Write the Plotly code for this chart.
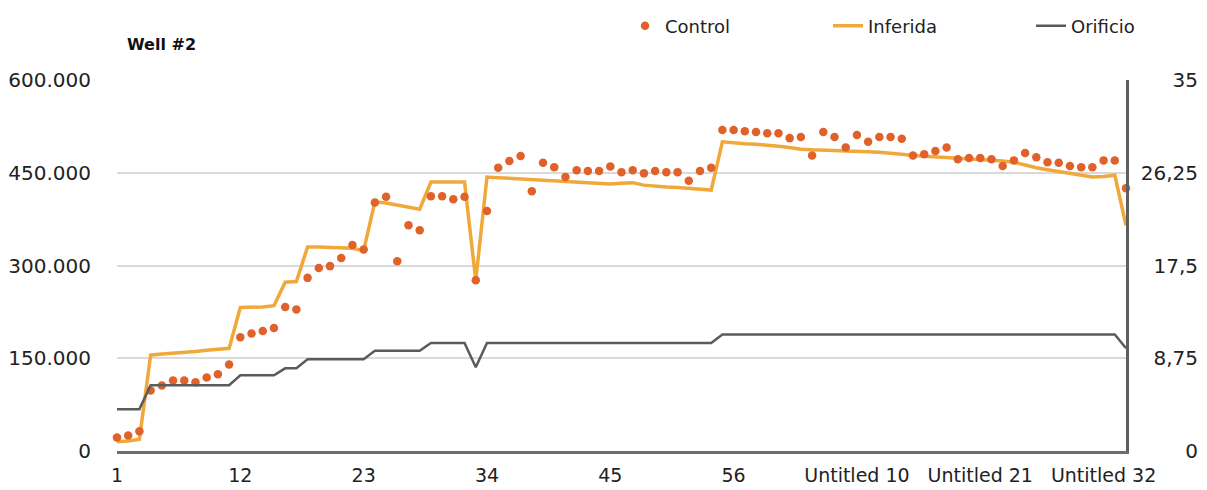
import plotly.graph_objects as go

categories = [str(i) for i in range(1, 58)] + [f"Untitled {i}" for i in range(1, 35)]

control = [22000, 25000, 32000, 98000, 106000, 114000, 114000, 111000, 119000, 124000,
           140000, 184000, 190000, 194000, 199000, 233000, 229000, 280000, 296000, 299000,
           312000, 333000, 326000, 402000, 411000, 307000, 365000, 357000, 412000, 412000,
           407000, 411000, 276000, 388000, 458000, 469000, 477000, 420000, 466000, 459000,
           443000, 454000, 453000, 453000, 460000, 451000, 454000, 449000, 453000, 451000,
           451000, 437000, 453000, 458000, 519000, 519000, 517000, 516000, 514000, 514000,
           506000, 508000, 478000, 516000, 508000, 491000, 511000, 500000, 508000, 508000,
           505000, 478000, 480000, 485000, 491000, 472000, 474000, 474000, 472000, 461000,
           470000, 482000, 475000, 467000, 466000, 461000, 459000, 459000, 470000, 470000,
           425000]

inferida = [15000, 16000, 19000, 155000, 157000, 158000, 160000, 161000, 163000, 164000,
            166000, 232000, 232000, 233000, 235000, 273000, 274000, 330000, 330000, 329000,
            329000, 328000, 324000, 403000, 401000, 398000, 395000, 391000, 435000, 435000,
            434000, 435000, 276000, 443000, 442000, 441000, 440000, 439000, 438000, 437000,
            436000, 435000, 434000, 433000, 432000, 433000, 434000, 430000, 428000, 427000,
            426000, 425000, 424000, 422000, 500000, 498000, 497000, 496000, 495000, 493000,
            491000, 488000, 487000, 487000, 486000, 485000, 485000, 484000, 483000, 482000,
            480000, 478000, 477000, 476000, 475000, 473000, 472000, 471000, 470000, 469000,
            467000, 462000, 458000, 455000, 452000, 449000, 446000, 443000, 444000, 446000,
            365000]

orificio = [3.95, 3.95, 3.95, 6.2, 6.2, 6.2, 6.2, 6.2, 6.2, 6.2,
            6.2, 7.15, 7.15, 7.15, 7.15, 7.8, 7.8, 8.65, 8.65, 8.65,
            8.65, 8.65, 8.65, 9.45, 9.45, 9.45, 9.45, 9.45, 10.2, 10.2,
            10.2, 10.2, 7.9, 10.2, 10.2, 10.2, 10.2, 10.2, 10.2, 10.2,
            10.2, 10.2, 10.2, 10.2, 10.2, 10.2, 10.2, 10.2, 10.2, 10.2,
            10.2, 10.2, 10.2, 10.2, 11.0, 11.0, 11.0, 11.0, 11.0, 11.0,
            11.0, 11.0, 11.0, 11.0, 11.0, 11.0, 11.0, 11.0, 11.0, 11.0,
            11.0, 11.0, 11.0, 11.0, 11.0, 11.0, 11.0, 11.0, 11.0, 11.0,
            11.0, 11.0, 11.0, 11.0, 11.0, 11.0, 11.0, 11.0, 11.0, 11.0,
            9.7]

left_ticks = [0, 150000, 300000, 450000, 600000]
right_ticks = [0, 8.75, 17.5, 26.25, 35]
FS, PS = "\u2007", "\u2008"
right_ticktext = [FS * 3 + PS + "0", FS + "8,75", FS + "17,5", "26,25", FS * 2 + PS + "35"]

FONT = "DejaVu Sans"
W, H = 1199, 482  # page body adds an 8px offset
fig = go.Figure()
fig.add_trace(go.Scatter(x=categories, y=inferida, mode="lines", name="Inferida",
                         line=dict(color="#F0A83A", width=3.5), legendrank=2, cliponaxis=False))
fig.add_trace(go.Scatter(x=categories, y=control, mode="markers", name="Control",
                         marker=dict(color="#E0622A", size=8.5), legendrank=1, cliponaxis=False))
fig.add_trace(go.Scatter(x=categories, y=orificio, yaxis="y2", mode="lines", name="Orificio",
                         line=dict(color="#5B5B5B", width=2.5), legendrank=3, cliponaxis=False))

fig.update_layout(
    width=W, height=H,
    margin=dict(l=109, r=81, t=72, b=39, autoexpand=False),
    paper_bgcolor="white", plot_bgcolor="white",
    separators=",.",
    title=dict(text="<b>Well #2</b>", x=119 / W, xref="container", xanchor="left",
               y=1 - 36 / H, yanchor="middle", font=dict(family=FONT, size=16, color="#111")),
    legend=dict(orientation="h", x=0.5035, xanchor="left", y=1.1457, yanchor="middle",
                entrywidth=158, font=dict(family=FONT, size=18, color="#222"),
                bgcolor="rgba(0,0,0,0)"),
    xaxis=dict(type="category", range=[0, 90], tickmode="linear", tick0=0, dtick=11,
               showgrid=False, showline=True, linecolor="#6E6E6E", linewidth=3, automargin=False,
               ticks="", ticklabelstandoff=5,
               tickfont=dict(family=FONT, size=19, color="#222"), zeroline=False),
    yaxis=dict(range=[0, 600000], tickvals=left_ticks, tickformat=",d", showgrid=True,
               gridcolor="#DADADA", gridwidth=2, zeroline=False, showline=False, ticks="",
               automargin=False, ticklabelstandoff=25,
               tickfont=dict(family=FONT, size=20, color="#222")),
    yaxis2=dict(overlaying="y", side="right", range=[0, 35], tickvals=right_ticks,
                ticktext=right_ticktext, showgrid=False, zeroline=False, showline=True,
                linecolor="#5E5E5E", linewidth=2.5, ticks="", ticklabelstandoff=8,
                automargin=False, tickfont=dict(family=FONT, size=20, color="#222")),
)

fig.write_html("out.html")
